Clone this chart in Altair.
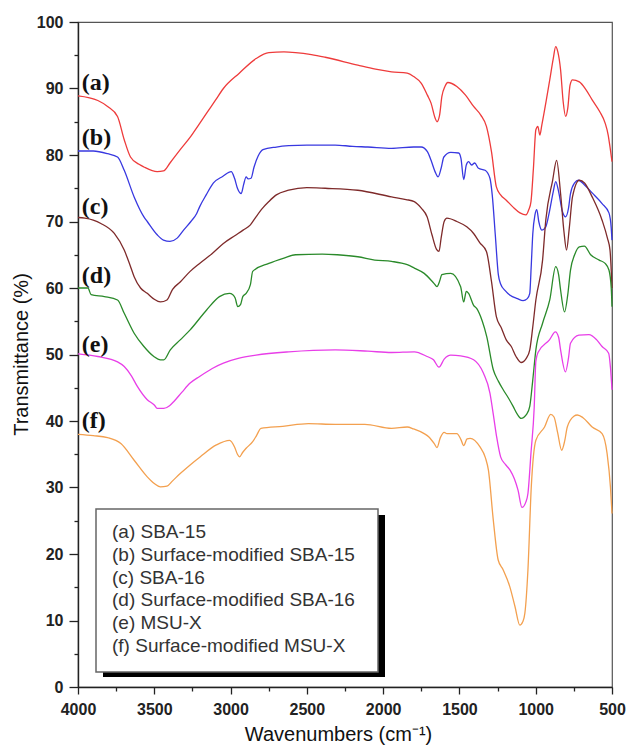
import altair as alt
import pandas as pd

# ---- spectra (wavenumber cm-1, transmittance %) ----
wn_a = [4000, 3870, 3806, 3741, 3697, 3656, 3600, 3568, 3481, 3440, 3397, 3330, 3267, 3210, 3157, 3100, 3047, 2943, 2833, 2749, 2650, 2574, 2470, 2380, 2166, 2050, 1945, 1842, 1800, 1751, 1710, 1686, 1660, 1647, 1630, 1615, 1595, 1576, 1517, 1460, 1407, 1360, 1323, 1290, 1258, 1230, 1193, 1150, 1103, 1064, 1045, 1031, 1015, 999, 986, 973, 960, 908, 885, 869, 855, 837, 820, 804, 790, 775, 759, 714, 670, 630, 580, 545, 525, 513, 500]
t_a = [88.9, 88.2, 87.3, 85.8, 82.3, 79.7, 78.6, 78.2, 77.5, 77.6, 78.8, 80.8, 82.6, 84.5, 86.3, 88.2, 90.0, 92.3, 94.5, 95.4, 95.5, 95.4, 95.1, 94.7, 93.5, 92.9, 92.5, 92.3, 91.8, 90.8, 89.0, 87.8, 85.6, 85.0, 86.0, 88.8, 90.3, 90.9, 90.3, 89.0, 87.3, 86.0, 84.3, 80.5, 75.2, 74.0, 73.2, 72.2, 71.3, 71.0, 71.8, 73.0, 78.0, 83.8, 84.3, 83.0, 84.5, 91.3, 94.5, 96.3, 95.5, 92.8, 88.0, 85.8, 87.0, 90.5, 91.3, 91.0, 89.8, 88.3, 86.5, 84.8, 83.0, 81.2, 79.0]

wn_b = [4000, 3900, 3806, 3741, 3697, 3632, 3568, 3546, 3481, 3440, 3397, 3350, 3308, 3260, 3222, 3203, 3160, 3112, 3050, 2996, 2974, 2955, 2930, 2915, 2898, 2885, 2866, 2846, 2820, 2788, 2700, 2619, 2500, 2315, 2200, 2100, 1945, 1800, 1751, 1710, 1686, 1660, 1640, 1620, 1602, 1557, 1505, 1490, 1472, 1455, 1440, 1420, 1400, 1375, 1332, 1300, 1285, 1265, 1245, 1230, 1200, 1168, 1120, 1083, 1055, 1039, 1030, 1019, 1005, 993, 980, 960, 934, 910, 885, 869, 850, 825, 804, 785, 772, 745, 720, 680, 630, 565, 520, 505, 500]
t_b = [80.6, 80.6, 80.2, 79.7, 77.7, 73.7, 70.7, 70.0, 68.0, 67.2, 67.0, 67.5, 68.7, 70.0, 71.2, 72.2, 74.0, 75.8, 76.8, 77.5, 76.5, 75.0, 74.2, 75.5, 76.7, 76.4, 76.5, 78.2, 79.8, 80.8, 81.2, 81.4, 81.5, 81.5, 81.3, 81.2, 81.0, 81.2, 81.2, 80.5, 79.2, 77.5, 76.7, 78.0, 79.7, 80.4, 80.3, 79.5, 76.3, 78.5, 79.0, 78.5, 78.8, 78.0, 77.7, 76.5, 74.0, 68.0, 62.0, 60.6, 59.6, 58.9, 58.4, 58.1, 58.4, 59.2, 63.0, 68.2, 71.0, 71.8, 70.0, 68.7, 69.2, 71.5, 74.5, 76.0, 74.5, 71.5, 70.7, 72.0, 74.2, 75.8, 76.2, 75.5, 74.3, 72.7, 71.3, 69.0, 67.2]

wn_c = [4000, 3955, 3900, 3850, 3762, 3697, 3660, 3632, 3590, 3546, 3500, 3460, 3417, 3380, 3330, 3265, 3203, 3120, 3047, 2970, 2918, 2870, 2833, 2790, 2749, 2700, 2619, 2500, 2380, 2166, 1945, 1850, 1796, 1750, 1712, 1680, 1650, 1634, 1620, 1600, 1582, 1517, 1452, 1407, 1366, 1323, 1290, 1258, 1225, 1193, 1160, 1129, 1096, 1060, 1039, 1020, 999, 955, 934, 889, 863, 837, 815, 798, 780, 759, 714, 680, 630, 565, 530, 513, 500]
t_c = [70.6, 70.5, 70.2, 69.7, 68.2, 65.7, 63.5, 61.7, 60.0, 59.2, 58.3, 57.9, 58.2, 59.8, 60.9, 62.5, 63.7, 65.2, 66.7, 67.9, 68.7, 69.5, 70.7, 72.0, 73.0, 74.0, 74.7, 75.1, 75.0, 74.7, 73.7, 73.3, 73.0, 72.0, 70.7, 68.0, 65.8, 65.5, 67.5, 70.0, 70.5, 70.0, 69.2, 68.2, 66.8, 65.5, 61.0, 55.7, 54.0, 52.2, 51.2, 49.7, 48.8, 49.5, 50.7, 54.0, 58.2, 64.2, 70.2, 76.2, 79.2, 74.2, 68.5, 65.7, 69.0, 73.7, 76.2, 75.8, 73.7, 70.2, 67.5, 65.7, 60.0]

wn_d = [4000, 3935, 3914, 3827, 3741, 3697, 3632, 3568, 3503, 3460, 3438, 3395, 3330, 3265, 3157, 3073, 3008, 2985, 2970, 2953, 2935, 2920, 2898, 2870, 2855, 2749, 2650, 2574, 2399, 2300, 2166, 2055, 1945, 1842, 1796, 1731, 1667, 1647, 1630, 1615, 1557, 1492, 1472, 1455, 1440, 1407, 1386, 1350, 1321, 1278, 1245, 1213, 1180, 1148, 1120, 1096, 1060, 1039, 1020, 999, 955, 908, 869, 850, 837, 811, 790, 772, 745, 714, 681, 640, 584, 545, 520, 505, 500]
t_d = [60.0, 60.0, 59.0, 58.7, 58.2, 56.2, 53.2, 51.2, 49.7, 49.2, 49.2, 50.7, 52.2, 53.7, 56.7, 58.7, 59.2, 59.0, 58.5, 57.2, 57.5, 58.7, 59.2, 60.5, 62.5, 63.7, 64.5, 65.0, 65.1, 65.0, 64.7, 64.2, 64.0, 63.5, 63.0, 62.2, 60.7, 60.2, 61.0, 62.0, 62.2, 60.2, 57.9, 59.5, 59.2, 57.4, 56.9, 55.0, 52.7, 47.7, 46.0, 44.7, 43.5, 42.2, 41.0, 40.4, 41.0, 42.2, 46.0, 50.7, 54.7, 58.2, 63.2, 62.0, 59.7, 56.4, 59.0, 62.7, 65.0, 66.2, 66.3, 65.0, 64.2, 63.7, 62.7, 60.0, 57.2]

wn_e = [4000, 3870, 3741, 3697, 3650, 3611, 3546, 3500, 3481, 3438, 3400, 3373, 3320, 3265, 3203, 3120, 3047, 2950, 2833, 2619, 2315, 2100, 1945, 1796, 1712, 1670, 1634, 1600, 1557, 1492, 1407, 1343, 1300, 1278, 1256, 1230, 1200, 1168, 1140, 1116, 1090, 1065, 1051, 1031, 1010, 999, 985, 910, 871, 850, 837, 805, 785, 772, 717, 651, 600, 565, 522, 510, 500]
t_e = [50.1, 49.7, 48.9, 48.2, 46.8, 45.2, 43.2, 42.4, 41.9, 41.9, 42.3, 42.9, 44.3, 45.7, 46.7, 47.9, 48.7, 49.4, 49.9, 50.4, 50.7, 50.5, 50.3, 50.4, 49.7, 49.2, 48.1, 49.3, 49.9, 49.8, 49.2, 47.2, 44.2, 41.0, 37.6, 34.6, 33.5, 32.6, 31.3, 29.6, 27.0, 27.8, 29.1, 35.2, 42.0, 49.0, 50.3, 52.2, 53.4, 52.6, 50.7, 47.4, 49.5, 51.7, 52.9, 53.0, 52.2, 51.2, 50.2, 48.0, 44.7]

wn_f = [4000, 3900, 3806, 3719, 3632, 3546, 3500, 3460, 3417, 3380, 3330, 3265, 3200, 3093, 3006, 2974, 2955, 2942, 2920, 2898, 2855, 2830, 2801, 2658, 2490, 2315, 2120, 1945, 1842, 1800, 1731, 1700, 1665, 1647, 1625, 1600, 1582, 1517, 1490, 1472, 1450, 1430, 1365, 1330, 1310, 1278, 1246, 1213, 1170, 1136, 1104, 1085, 1071, 1051, 1029, 999, 942, 902, 880, 856, 830, 810, 793, 750, 727, 690, 630, 565, 532, 510, 500]
t_f = [38.0, 37.8, 37.5, 36.6, 34.1, 31.6, 30.6, 30.1, 30.2, 31.0, 32.1, 33.4, 34.6, 36.4, 37.1, 36.1, 35.0, 34.6, 35.3, 35.9, 36.9, 37.8, 38.9, 39.2, 39.6, 39.5, 39.5, 38.9, 39.1, 38.8, 38.1, 37.6, 36.6, 36.0, 37.5, 38.3, 38.1, 38.1, 37.2, 36.3, 37.3, 37.4, 36.1, 34.5, 32.6, 25.1, 19.1, 17.6, 15.1, 12.1, 9.3, 9.8, 11.1, 17.6, 30.1, 37.1, 39.1, 41.0, 40.6, 38.2, 35.6, 37.0, 39.1, 40.7, 40.9, 40.5, 39.1, 38.1, 35.1, 30.0, 26.1]

series_keys = ["a", "b", "c", "d", "e", "f"]
series_colors = ["#ee3b3b", "#3838e0", "#7e2a2a", "#2a8a2a", "#e83ee8", "#f3a04f"]
legend_labels = ["(a) SBA-15", "(b) Surface-modified SBA-15", "(c) SBA-16",
                 "(d) Surface-modified SBA-16", "(e) MSU-X", "(f) Surface-modified MSU-X"]
curve_labels = ["(a)", "(b)", "(c)", "(d)", "(e)", "(f)"]
curve_label_y = [90.8, 82.6, 72.2, 61.8, 51.4, 40.0]
curve_label_x = [3975, 3975, 3975, 3975, 3975, 3975]

x_major = [4000, 3500, 3000, 2500, 2000, 1500, 1000, 500]
x_minor = [3750, 3250, 2750, 2250, 1750, 1250, 750]
y_major = [0, 10, 20, 30, 40, 50, 60, 70, 80, 90, 100]
y_minor = [5, 15, 25, 35, 45, 55, 65, 75, 85, 95]

all_wn = [wn_a, wn_b, wn_c, wn_d, wn_e, wn_f]
all_t = [t_a, t_b, t_c, t_d, t_e, t_f]
rows = []
for k, w, t in zip(series_keys, all_wn, all_t):
    for wi, ti in zip(w, t):
        rows.append({"s": k, "wn": wi, "t": ti})
df = pd.DataFrame(rows)

xs = alt.Scale(domain=[500, 4000], reverse=True, nice=False, zero=False)
ys = alt.Scale(domain=[0, 100], nice=False, zero=False)

lines = alt.Chart(df).mark_line(strokeWidth=1.3, interpolate="monotone").encode(
    x=alt.X("wn:Q", scale=xs, axis=alt.Axis(values=x_major, title="Wavenumbers (cm⁻¹)",
                                            tickSize=7, labelPadding=7, titleX=260, titleY=47,
                                            titleBaseline="middle", format="d", orient="bottom",
                                            labelFlush=False, labelOverlap=False)),
    y=alt.Y("t:Q", scale=ys, axis=alt.Axis(values=y_major, title="Transmittance (%)",
                                           tickSize=9, labelPadding=6, titleX=-57, titleY=332,
                                           titleAngle=270, titleBaseline="middle", titleAlign="center",
                                           orient="left", labelFlush=False, labelOverlap=False)),
    color=alt.Color("s:N", scale=alt.Scale(domain=series_keys, range=series_colors), legend=None),
    order=alt.Order("wn:Q", sort="descending"),
    detail="s:N",
)

minor = alt.Chart(df).mark_point(opacity=0).encode(
    x=alt.X("wn:Q", scale=xs, axis=alt.Axis(values=x_minor, labels=False, tickSize=4,
                                            domain=False, title=None, orient="bottom")),
    y=alt.Y("t:Q", scale=ys, axis=alt.Axis(values=y_minor, labels=False, tickSize=4,
                                           domain=False, title=None, orient="left")),
)

lab_df = pd.DataFrame({"label": curve_labels, "x": curve_label_x, "y": curve_label_y})
labels = alt.Chart(lab_df).mark_text(align="left", baseline="middle", font="Liberation Serif",
                                     fontWeight="bold", fontSize=24, color="#111").encode(
    x=alt.X("x:Q", scale=xs, axis=None),
    y=alt.Y("y:Q", scale=ys, axis=None),
    text="label:N",
)

one = pd.DataFrame({"k": [0]})
shadow = alt.Chart(one).mark_rect(fill="black").encode(
    x=alt.value(25), x2=alt.value(307), y=alt.value(493), y2=alt.value(655))
box = alt.Chart(one).mark_rect(fill="white", stroke="#666", strokeWidth=1.5).encode(
    x=alt.value(18), x2=alt.value(300), y=alt.value(487), y2=alt.value(650))

leg_df = pd.DataFrame({"label": legend_labels, "i": list(range(len(legend_labels)))})
leg_text = alt.Chart(leg_df).transform_calculate(py="510 + datum.i * 22.8").mark_text(
    align="left", baseline="middle", font="Liberation Sans", fontSize=19, color="#333").encode(
    x=alt.value(34),
    y=alt.Y("py:Q", scale=None, axis=None),
    text="label:N",
)

chart = alt.layer(lines, minor, labels, shadow, box, leg_text).resolve_axis(
    x="independent", y="independent"
).properties(
    width=534, height=665,
    padding={"left": 70, "top": 14, "right": 14, "bottom": 58},
    autosize=alt.AutoSizeParams(type="none"),
).configure_view(stroke="#555", strokeWidth=1.2).configure_axis(
    labelFont="Liberation Sans", labelFontWeight="bold", labelFontSize=16, labelColor="#222",
    tickColor="#222", domainColor="#222", domainWidth=1.4, tickWidth=1.3, grid=False,
    titleFont="Liberation Sans", titleFontSize=20, titleFontWeight="normal", titleColor="#111",
)

chart.save("out.html", embed_options={"renderer": "svg", "actions": False})
